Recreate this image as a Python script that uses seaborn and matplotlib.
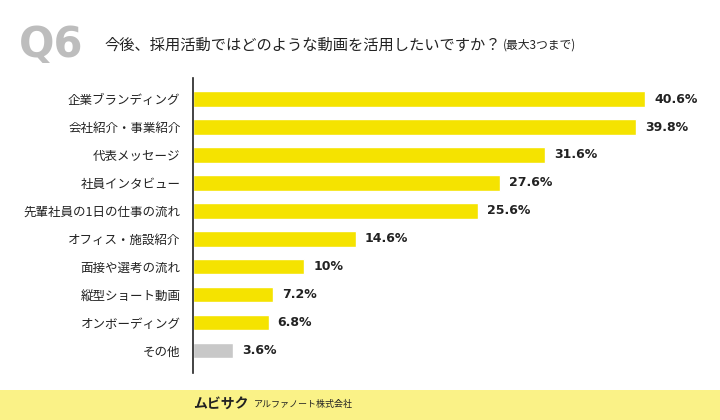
import matplotlib
matplotlib.use("Agg")
import matplotlib.pyplot as plt
import seaborn as sns
import pandas as pd

categories = ["企業ブランディング", "会社紹介・事業紹介", "代表メッセージ", "社員インタビュー",
              "先輩社員の1日の仕事の流れ", "オフィス・施設紹介", "面接や選考の流れ",
              "縦型ショート動画", "オンボーディング", "その他"]
values = [40.6, 39.8, 31.6, 27.6, 25.6, 14.6, 10, 7.2, 6.8, 3.6]
value_labels = ["40.6%", "39.8%", "31.6%", "27.6%", "25.6%", "14.6%", "10%", "7.2%", "6.8%", "3.6%"]
bar_colors = ["#F5E300"] * 9 + ["#C8C8C8"]

sns.set_theme(style="white")
plt.rcParams['font.family'] = ['Noto Sans CJK JP', 'DejaVu Sans']

df = pd.DataFrame({"cat": categories, "val": values})

fig = plt.figure(figsize=(7.2, 4.2), dpi=100)
fig.patch.set_facecolor("white")

ax = fig.add_axes([0.268, 0.112, 0.708, 0.702])
ax.set_facecolor("none")
sns.barplot(data=df, y="cat", x="val", hue="cat", palette=bar_colors, legend=False,
            orient="h", width=0.55, ax=ax, saturation=1)
ax.set_xlim(0, 45.75)
ax.set_ylim(9.8, -0.75)
ax.set_xlabel("")
ax.set_ylabel("")
ax.set_xticks([])
for s in ["top", "right", "bottom"]:
    ax.spines[s].set_visible(False)
ax.spines["left"].set_color("#222222")
ax.spines["left"].set_linewidth(1.2)
ax.tick_params(axis="y", length=0, pad=9, labelsize=9, labelcolor="#222222")

for i, (v, lab) in enumerate(zip(values, value_labels)):
    ax.text(v + 0.8, i, lab, va="center", ha="left", fontsize=9, fontweight="bold",
            color="#222222", family=["DejaVu Sans"])

# title
fig.text(0.026, 0.893, "Q6", fontsize=30, fontweight="bold", color="#BDBDBD",
         va="center", ha="left", family=["DejaVu Sans"])
fig.text(0.145, 0.893, "今後、採用活動ではどのような動画を活用したいですか？", fontsize=11,
         color="#222222", va="center", ha="left")
fig.text(0.698, 0.893, "(最大3つまで)", fontsize=8.5, color="#222222", va="center", ha="left")

# footer band
fig.patches.append(plt.Rectangle((0, 0), 1, 0.072, transform=fig.transFigure,
                                 facecolor="#FAF287", edgecolor="none", zorder=0))
fig.text(0.268, 0.036, "ムビサク", fontsize=10, fontweight="bold", color="#222222",
         va="center", ha="left")
fig.text(0.352, 0.036, "アルファノート株式会社", fontsize=6.5, color="#222222",
         va="center", ha="left")

fig.savefig("out.png", dpi=100, facecolor="white")
